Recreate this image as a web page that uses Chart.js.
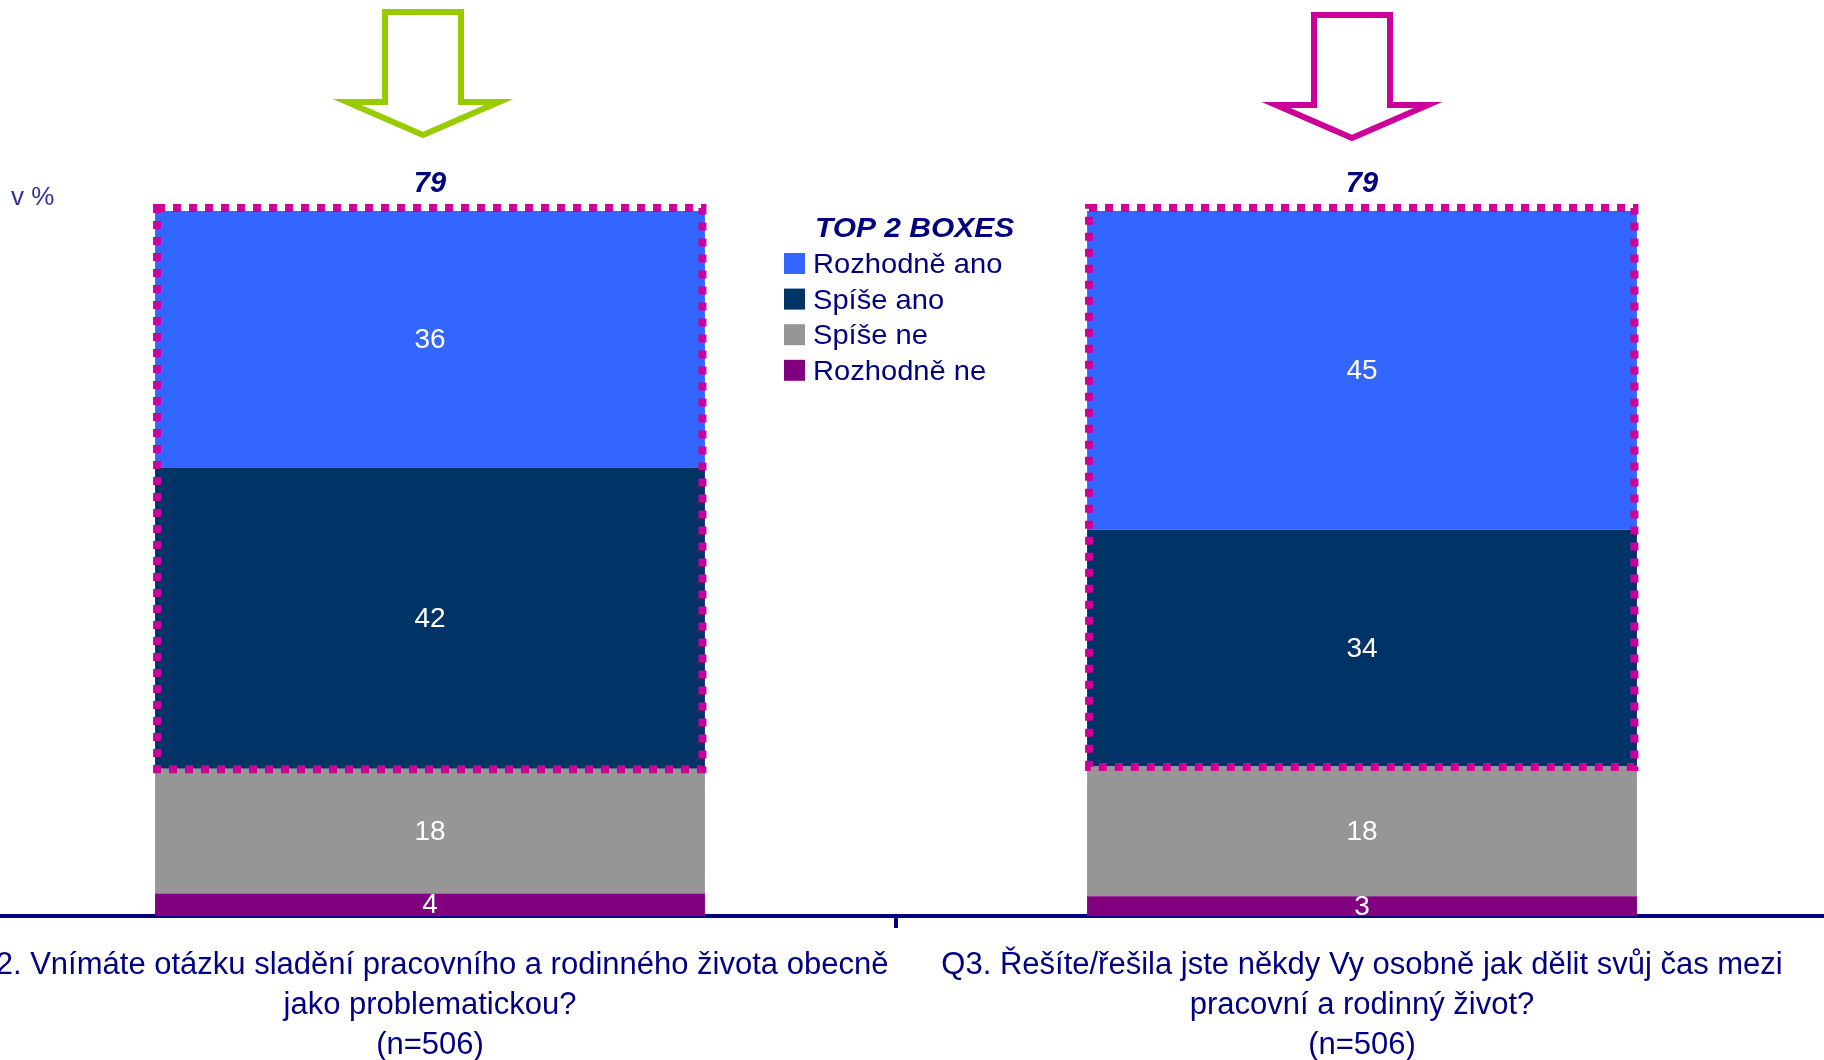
<!DOCTYPE html>
<html><head><meta charset="utf-8">
<script src="https://cdn.jsdelivr.net/npm/chart.js@4.4.1/dist/chart.umd.min.js"></script>
<style>
html,body{margin:0;padding:0;background:#fff;overflow:hidden;width:1824px;height:1060px;position:relative;}
#wrap{position:absolute;left:-36px;top:0;width:1864px;height:1060px;}
canvas{display:block;}
</style></head><body>
<div id="wrap"><canvas id="c" width="1864" height="1060"></canvas></div>
<script>
// ---- data ----
const categories = [
  ["Q2. Vnímáte otázku sladění pracovního a rodinného života obecně", "jako problematickou?", "(n=506)"],
  ["Q3. Řešíte/řešila jste někdy Vy osobně jak dělit svůj čas mezi", "pracovní a rodinný život?", "(n=506)"]
];
const seriesNames = ["Rozhodně ano", "Spíše ano", "Spíše ne", "Rozhodně ne"];
const rozhodneAno = [36.4, 45.2];
const spiseAno    = [42.7, 33.6];
const spiseNe     = [17.7, 18.4];
const rozhodneNe  = [3.2, 2.8];
const rozhodneAnoLabels = ["36", "45"];
const spiseAnoLabels    = ["42", "34"];
const spiseNeLabels     = ["18", "18"];
const rozhodneNeLabels  = ["4", "3"];
const top2Labels = ["79", "79"];
const legendTitle = "TOP 2 BOXES";
const unitLabel = "v %";

// ---- styles ----
const OFF = 36; // canvas is shifted 36px left of the page
const FONT = '"Liberation Sans", Arial, sans-serif';
const NAVY_TEXT = '#000080';
const colors = { ra: '#3366FF', sa: '#003366', sn: '#969696', rn: '#800080' };
const arrowColors = ['#99CC00', '#CC0099'];
const arrowShift = [-7, -10];
const arrowDy = [0, 3];
const boxColor = '#CC0099';

const datasets = [
  { label: seriesNames[3], data: rozhodneNe, backgroundColor: colors.rn, valueLabels: rozhodneNeLabels },
  { label: seriesNames[2], data: spiseNe, backgroundColor: colors.sn, valueLabels: spiseNeLabels },
  { label: seriesNames[1], data: spiseAno, backgroundColor: colors.sa, valueLabels: spiseAnoLabels },
  { label: seriesNames[0], data: rozhodneAno, backgroundColor: colors.ra, valueLabels: rozhodneAnoLabels }
].map(d => Object.assign(d, { categoryPercentage: 0.59, barPercentage: 1, borderWidth: 0 }));

const overlay = {
  id: 'overlay',
  afterDatasetsDraw(chart) {
    const ctx = chart.ctx;
    ctx.save();
    // segment labels
    ctx.fillStyle = '#FFFFFF';
    ctx.font = '28px ' + FONT;
    ctx.textAlign = 'center';
    ctx.textBaseline = 'middle';
    chart.data.datasets.forEach((ds, di) => {
      const meta = chart.getDatasetMeta(di);
      meta.data.forEach((bar, i) => {
        ctx.fillText(ds.valueLabels[i], bar.x, (bar.y + bar.base) / 2 + 1);
      });
    });
    const metaTop = chart.getDatasetMeta(3);
    const metaSA = chart.getDatasetMeta(2);
    metaTop.data.forEach((bar, i) => {
      const sa = metaSA.data[i];
      const left = bar.x - bar.width / 2 + 2;
      const right = bar.x + bar.width / 2 - 2.5;
      const top = bar.y - 3;
      const bottom = sa.base + 0.5;
      // dotted box around top 2 boxes
      ctx.save();
      ctx.strokeStyle = boxColor;
      ctx.lineWidth = 8;
      ctx.setLineDash([8, 8]);
      ctx.lineDashOffset = 0;
      ctx.strokeRect(left, top, right - left, bottom - top);
      ctx.restore();
      // top-2 label
      ctx.fillStyle = NAVY_TEXT;
      ctx.font = 'italic bold 29px ' + FONT;
      ctx.textAlign = 'center';
      ctx.textBaseline = 'middle';
      ctx.fillText(top2Labels[i], bar.x, bar.y - 27);
      // arrow
      const cx = bar.x + arrowShift[i];
      const dy = arrowDy[i];
      ctx.save();
      ctx.strokeStyle = arrowColors[i];
      ctx.lineWidth = 6;
      ctx.lineJoin = 'miter';
      ctx.beginPath();
      ctx.moveTo(cx - 38, 12 + dy);
      ctx.lineTo(cx + 38, 12 + dy);
      ctx.lineTo(cx + 38, 102 + dy);
      ctx.lineTo(cx + 76, 102 + dy);
      ctx.lineTo(cx, 135 + dy);
      ctx.lineTo(cx - 76, 102 + dy);
      ctx.lineTo(cx - 38, 102 + dy);
      ctx.closePath();
      ctx.stroke();
      ctx.restore();
    });
    // unit label
    ctx.fillStyle = '#333399';
    ctx.font = '26px ' + FONT;
    ctx.textAlign = 'left';
    ctx.textBaseline = 'alphabetic';
    ctx.fillText(unitLabel, 11 + OFF, 205);
    // legend
    ctx.fillStyle = NAVY_TEXT;
    ctx.save();
    ctx.translate(815 + OFF, 237);
    ctx.scale(1.07, 1);
    ctx.font = 'italic bold 28px ' + FONT;
    ctx.fillText(legendTitle, 0, 0);
    ctx.restore();
    const legendColors = [colors.ra, colors.sa, colors.sn, colors.rn];
    seriesNames.forEach((name, i) => {
      const sy = 253 + i * 35.6;
      ctx.fillStyle = legendColors[i];
      ctx.fillRect(784 + OFF, sy, 21, 21);
      ctx.save();
      ctx.translate(813 + OFF, sy + 20);
      ctx.scale(1.04, 1);
      ctx.fillStyle = NAVY_TEXT;
      ctx.font = '28px ' + FONT;
      ctx.fillText(name, 0, 0);
      ctx.restore();
    });
    ctx.restore();
  }
};

new Chart(document.getElementById('c'), {
  type: 'bar',
  data: { labels: categories, datasets: datasets },
  options: {
    responsive: false,
    animation: false,
    devicePixelRatio: 1,
    layout: { padding: { top: 211, left: 0, right: 0, bottom: 0 } },
    plugins: { legend: { display: false }, tooltip: { enabled: false } },
    scales: {
      x: {
        stacked: true,
        offset: true,
        grid: { display: true, offset: true, drawOnChartArea: false, drawTicks: true, tickLength: 12, tickWidth: 4, tickColor: '#000080', lineWidth: 4, color: '#000080' },
        border: { display: true, color: '#000080', width: 4 },
        ticks: { color: NAVY_TEXT, font: { family: FONT, size: 31, lineHeight: 1.29 }, padding: 17, maxRotation: 0, minRotation: 0, autoSkip: false },
        afterFit(s) { s.height = 144; s.paddingLeft = 0; s.paddingRight = 0; }
      },
      y: { stacked: true, display: false, min: 0, max: 100 }
    }
  },
  plugins: [overlay]
});
</script>
</body></html>
